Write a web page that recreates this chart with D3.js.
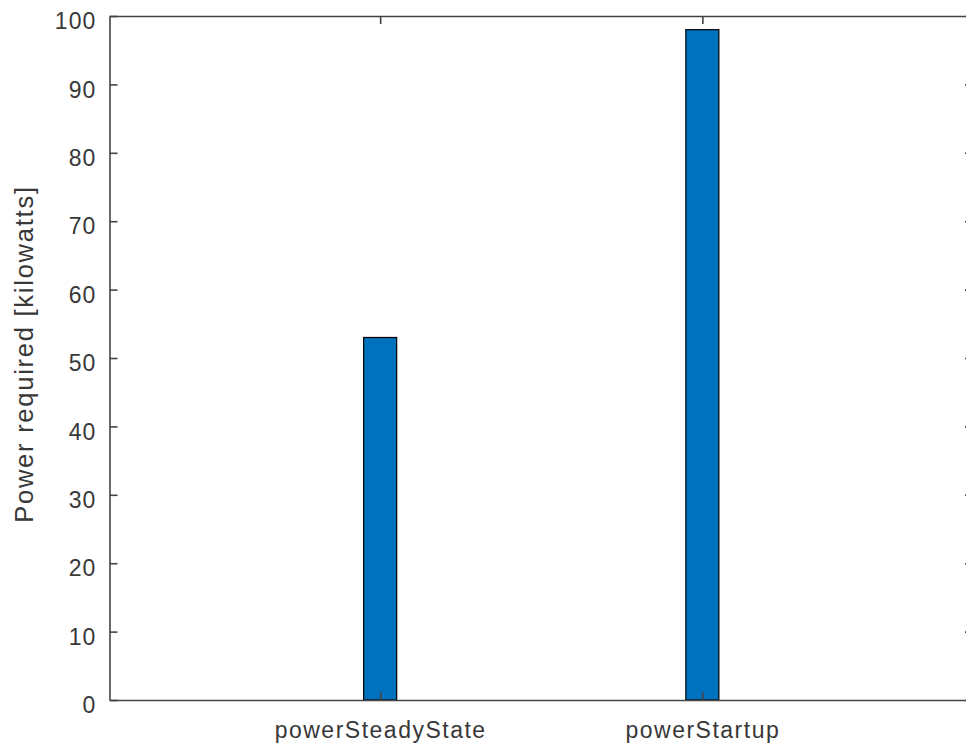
<!DOCTYPE html>
<html>
<head>
<meta charset="utf-8">
<script src="https://cdn.jsdelivr.net/npm/d3@7"></script>
<style>
  html, body { margin: 0; padding: 0; background: #fff; }
  svg { display: block; }
  text { font-family: "Liberation Sans", Arial, Helvetica, sans-serif; fill: #383838; }
</style>
</head>
<body>
<svg id="chart" width="966" height="748"></svg>
<script>
// ---- data ----
const categories = ["powerSteadyState", "powerStartup"];
const values = [53, 98];
const yTicks = [0, 10, 20, 30, 40, 50, 60, 70, 80, 90, 100];
const yLabel = "Power required [kilowatts]";

(function () {
// ---- layout ----
const svg = d3.select("#chart");
const mLeft = 109.5, mRight = 973, mTop = 16, mBottom = 700;
const xDomain = [0.16, 2.84];
const barWidth = 0.1025;

const x = d3.scaleLinear().domain(xDomain).range([mLeft, mRight]);
const y = d3.scaleLinear().domain([0, 100]).range([mBottom, mTop]);
const catPos = categories.map((c, i) => i + 1);

// bars
svg.append("g").selectAll("rect").data(values).join("rect")
  .attr("x", (d, i) => x(catPos[i] - barWidth / 2))
  .attr("width", (d, i) => x(catPos[i] + barWidth / 2) - x(catPos[i] - barWidth / 2))
  .attr("y", d => y(d))
  .attr("height", d => y(0) - y(d))
  .attr("fill", "#0072BD")
  .attr("stroke", "#000")
  .attr("stroke-width", 1.2);

const axisColor = "#444";
const tickLen = 8;
const fontSize = 23;
const textColor = "#383838";

const gl = svg.append("g").attr("transform", `translate(${mLeft},0)`)
  .call(d3.axisLeft(y).tickValues(yTicks).tickSizeInner(-tickLen).tickSizeOuter(0).tickPadding(13));
const gr = svg.append("g").attr("transform", `translate(${mRight},0)`)
  .call(d3.axisRight(y).tickValues(yTicks).tickSizeInner(-tickLen).tickSizeOuter(0).tickFormat(""));
const gb = svg.append("g").attr("transform", `translate(0,${mBottom})`)
  .call(d3.axisBottom(x).tickValues(catPos).tickFormat((d, i) => categories[i]).tickSizeInner(-tickLen).tickSizeOuter(0).tickPadding(30));
const gt = svg.append("g").attr("transform", `translate(0,${mTop})`)
  .call(d3.axisTop(x).tickValues(catPos).tickFormat("").tickSizeInner(-tickLen).tickSizeOuter(0));

[gl, gr, gb, gt].forEach(g => {
  g.select(".domain").attr("stroke", axisColor).attr("stroke-width", 1.6);
  g.selectAll(".tick line").attr("stroke", axisColor).attr("stroke-width", 1.6);
  g.selectAll("text").attr("font-family", "Liberation Sans, Arial, sans-serif")
    .attr("font-size", fontSize).attr("fill", textColor).style("letter-spacing", "1.1px");
});
gl.selectAll(".tick text").attr("dy", "0.55em");
gb.selectAll(".tick text").attr("dy", "0.33em").style("letter-spacing", "1.5px");

svg.append("text")
  .attr("transform", `translate(33,${(mTop + mBottom) / 2 - 4}) rotate(-90)`)
  .attr("text-anchor", "middle")
  .attr("font-size", 25.5)
  .attr("fill", textColor)
  .style("letter-spacing", "1.75px")
  .text(yLabel);
})();
</script>
</body>
</html>
